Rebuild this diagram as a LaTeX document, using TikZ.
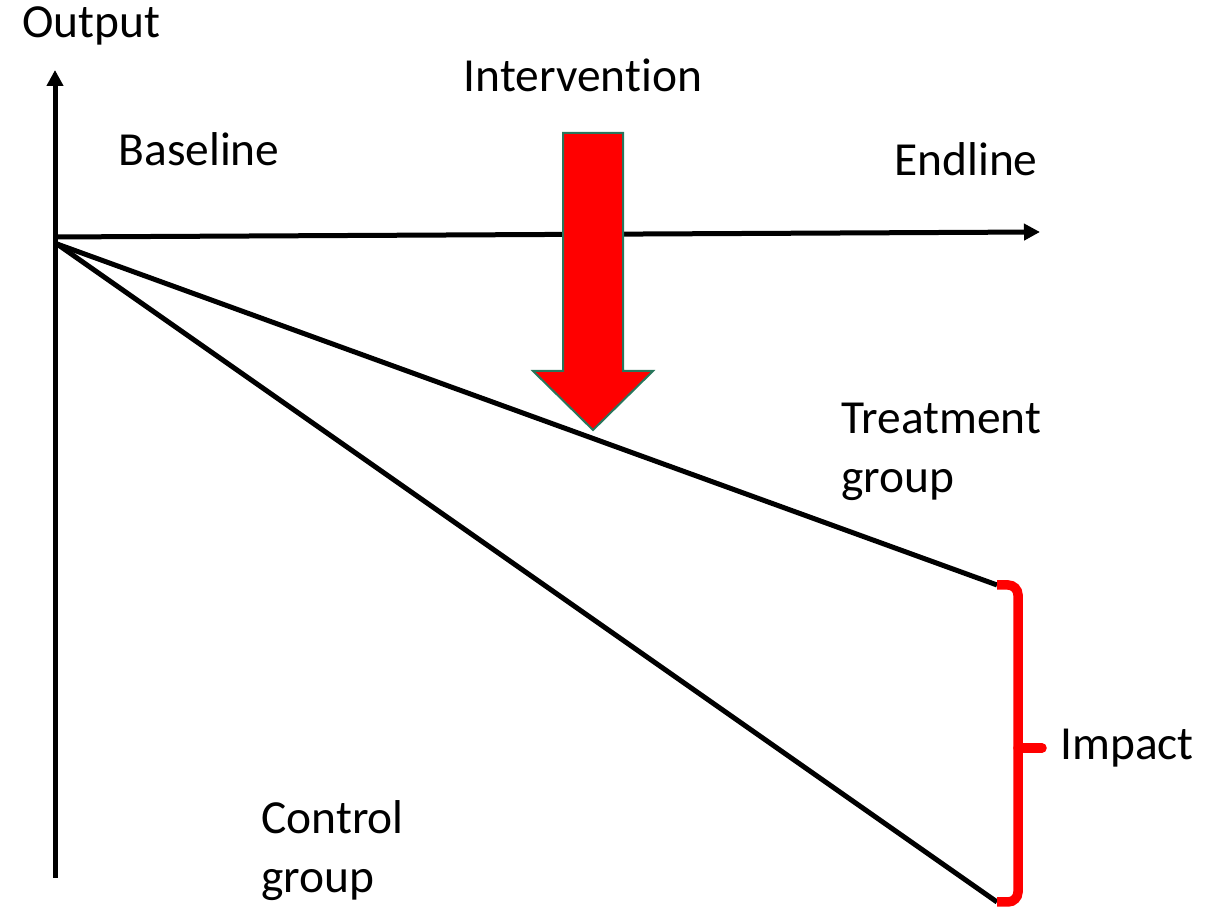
\documentclass[tikz,border=0pt]{standalone}
\usepackage{fontspec}
\setmainfont{Carlito}[Ligatures=NoCommon]
\usepackage{tikz}
\usetikzlibrary{arrows.meta, positioning}
\definecolor{interred}{RGB}{255,0,0}
\definecolor{interedge}{RGB}{40,118,92}

\begin{document}
\begin{tikzpicture}[
    every node/.style={inner sep=0pt, align=left, font=\fontsize{27}{34}\selectfont},
    axis/.style={-{Triangle[length=0.32cm, width=0.32cm]}, line width=0.1cm},
    trend/.style={line width=0.1cm},
    brace/.style={draw=red, line width=0.19cm, rounded corners=0.2cm}
    ]
    \useasboundingbox (0,0) rectangle (24.5,18.28);

    % Coordinates
    \coordinate (origin)     at (1.10,13.54);
    \coordinate (y_top)      at (1.10,16.88);
    \coordinate (y_bot)      at (1.10,0.72);
    \coordinate (x_end)      at (20.80,13.64);
    \coordinate (start)      at (1.14,13.40);
    \coordinate (treat_end)  at (19.94,6.58);
    \coordinate (ctrl_end)   at (19.94,0.24);
    \coordinate (impact_tip) at (20.84,3.32);

    % Nodes
    \node (output)       [anchor=base] at (1.82,17.52) {Output};
    \node (intervention) [anchor=base] at (11.66,16.44) {Intervention};
    \node (baseline)     [anchor=base] at (3.98,14.96) {Baseline};
    \node (endline)      [anchor=base] at (19.32,14.76) {Endline};
    \node (treatment)    [anchor=base west] at (16.82,8.42) {Treatment\\group};
    \node (control)      [anchor=base west] at (5.22,0.42) {Control\\group};
    \node (impact)       [right=0.36cm of impact_tip] {Impact};

    % Arrows
    \draw[axis] (y_bot) -- (y_top);
    \draw[axis] (origin) -- (x_end);
    \draw[trend] (start) -- (treat_end);
    \draw[trend] (start) -- (ctrl_end);

    % Intervention arrow
    \filldraw[fill=interred, draw=interedge, line width=0.04cm]
        (11.26,15.62) -- (12.46,15.62) -- (12.46,10.86) -- (13.06,10.86)
        -- (11.86,9.68) -- (10.66,10.86) -- (11.26,10.86) -- cycle;

    % Impact brace
    \draw[brace] (treat_end) -- (20.36,6.58) -- (20.36,0.24) -- (ctrl_end);
    \draw[brace, line cap=round] (20.36,3.32) -- (impact_tip);
\end{tikzpicture}
\end{document}
